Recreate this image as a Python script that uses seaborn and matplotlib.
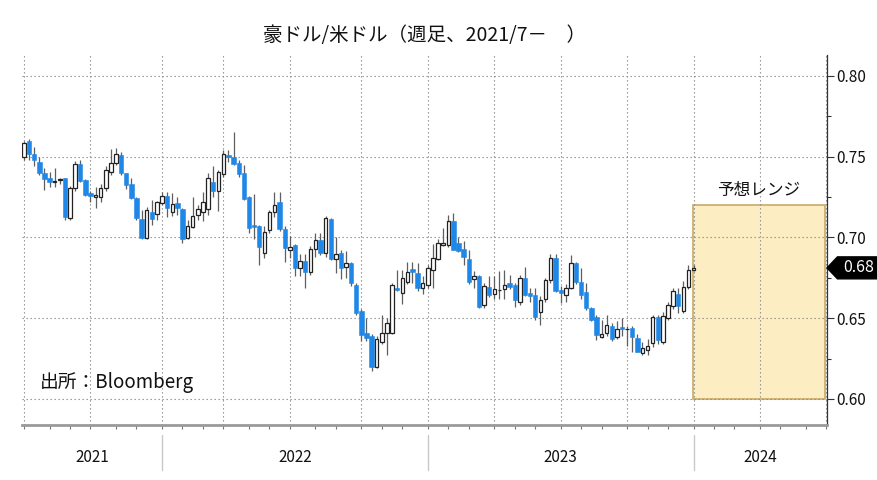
import numpy as np
import pandas as pd
import matplotlib
matplotlib.use("Agg")
import matplotlib.pyplot as plt
import matplotlib.transforms as mtransforms
from matplotlib.patches import Rectangle, Polygon
import seaborn as sns

# ---------------- data (weekly AUD/USD, week ending Friday) ----------------
first_week = "2021-06-25"
n_weeks = 132
open_ = [0.7500, 0.7595, 0.7517, 0.7470, 0.7397, 0.7366, 0.7345, 0.7355, 0.7366, 0.7118,
         0.7304, 0.7453, 0.7356, 0.7273, 0.7250, 0.7253, 0.7304, 0.7407, 0.7463, 0.7511,
         0.7397, 0.7329, 0.7247, 0.7115, 0.6995, 0.7155, 0.7143, 0.7215, 0.7257, 0.7160,
         0.7211, 0.7174, 0.6995, 0.7067, 0.7139, 0.7160, 0.7174, 0.7346, 0.7290, 0.7393,
         0.7511, 0.7501, 0.7459, 0.7397, 0.7253, 0.7077, 0.7071, 0.6906, 0.7046, 0.7160,
         0.7222, 0.7050, 0.6923, 0.6954, 0.6809, 0.6854, 0.6784, 0.6927, 0.6985, 0.6902,
         0.7112, 0.6865, 0.6902, 0.6815, 0.6844, 0.6706, 0.6547, 0.6410, 0.6390, 0.6196,
         0.6355, 0.6406, 0.6410, 0.6685, 0.6654, 0.6726, 0.6803, 0.6778, 0.6685, 0.6706,
         0.6799, 0.6865, 0.6954, 0.6954, 0.7100, 0.6968, 0.6927, 0.6865, 0.6741, 0.6762,
         0.6582, 0.6692, 0.6650, 0.6675, 0.6679, 0.6716, 0.6706, 0.6603, 0.6747, 0.6654,
         0.6644, 0.6541, 0.6617, 0.6737, 0.6871, 0.6675, 0.6644, 0.6685, 0.6840, 0.6726,
         0.6664, 0.6561, 0.6510, 0.6386, 0.6410, 0.6452, 0.6386, 0.6444, 0.6431, 0.6437,
         0.6375, 0.6287, 0.6303, 0.6344, 0.6510, 0.6355, 0.6500, 0.6576, 0.6650, 0.6547,
         0.6696, 0.6800]
high = [0.7600, 0.7610, 0.7560, 0.7500, 0.7430, 0.7407, 0.7430, 0.7370, 0.7370, 0.7320,
        0.7475, 0.7478, 0.7360, 0.7290, 0.7314, 0.7330, 0.7440, 0.7548, 0.7556, 0.7530,
        0.7400, 0.7370, 0.7250, 0.7170, 0.7190, 0.7235, 0.7225, 0.7280, 0.7280, 0.7275,
        0.7250, 0.7180, 0.7110, 0.7250, 0.7200, 0.7280, 0.7400, 0.7440, 0.7420, 0.7540,
        0.7540, 0.7655, 0.7480, 0.7450, 0.7260, 0.7270, 0.7080, 0.7070, 0.7170, 0.7280,
        0.7280, 0.7070, 0.7010, 0.6960, 0.6900, 0.6900, 0.6950, 0.7030, 0.7030, 0.7135,
        0.7120, 0.7005, 0.6920, 0.6915, 0.6850, 0.6720, 0.6560, 0.6500, 0.6400, 0.6390,
        0.6520, 0.6500, 0.6720, 0.6800, 0.6800, 0.6850, 0.6850, 0.6840, 0.6760, 0.6830,
        0.6960, 0.6990, 0.7060, 0.7140, 0.7153, 0.7005, 0.6980, 0.6920, 0.6790, 0.6770,
        0.6720, 0.6760, 0.6760, 0.6790, 0.6800, 0.6770, 0.6720, 0.6770, 0.6818, 0.6690,
        0.6690, 0.6640, 0.6750, 0.6895, 0.6895, 0.6700, 0.6710, 0.6892, 0.6850, 0.6810,
        0.6720, 0.6570, 0.6520, 0.6490, 0.6520, 0.6470, 0.6480, 0.6500, 0.6450, 0.6450,
        0.6400, 0.6350, 0.6370, 0.6520, 0.6520, 0.6540, 0.6600, 0.6690, 0.6690, 0.6730,
        0.6830, 0.6830]
low = [0.7480, 0.7480, 0.7445, 0.7390, 0.7294, 0.7314, 0.7310, 0.7330, 0.7106, 0.7110,
       0.7290, 0.7345, 0.7255, 0.7220, 0.7180, 0.7220, 0.7290, 0.7387, 0.7450, 0.7390,
       0.7300, 0.7240, 0.7110, 0.6990, 0.6990, 0.7080, 0.7110, 0.7200, 0.7130, 0.7135,
       0.7140, 0.6964, 0.6990, 0.7060, 0.7110, 0.7100, 0.7140, 0.7250, 0.7165, 0.7375,
       0.7470, 0.7450, 0.7375, 0.7230, 0.7030, 0.6990, 0.6830, 0.6870, 0.7030, 0.7130,
       0.7040, 0.6850, 0.6870, 0.6760, 0.6760, 0.6685, 0.6770, 0.6880, 0.6890, 0.6880,
       0.6860, 0.6780, 0.6740, 0.6750, 0.6700, 0.6520, 0.6360, 0.6360, 0.6175, 0.6190,
       0.6340, 0.6272, 0.6400, 0.6670, 0.6590, 0.6710, 0.6720, 0.6670, 0.6650, 0.6690,
       0.6690, 0.6860, 0.6950, 0.6940, 0.6920, 0.6910, 0.6830, 0.6710, 0.6690, 0.6565,
       0.6565, 0.6630, 0.6620, 0.6620, 0.6620, 0.6680, 0.6570, 0.6580, 0.6640, 0.6600,
       0.6490, 0.6458, 0.6600, 0.6720, 0.6660, 0.6595, 0.6600, 0.6680, 0.6710, 0.6620,
       0.6550, 0.6480, 0.6365, 0.6380, 0.6390, 0.6360, 0.6370, 0.6390, 0.6330, 0.6293,
       0.6290, 0.6270, 0.6270, 0.6320, 0.6340, 0.6340, 0.6490, 0.6560, 0.6530, 0.6530,
       0.6680, 0.6790]
close = [0.7585, 0.7517, 0.7480, 0.7397, 0.7362, 0.7342, 0.7350, 0.7360, 0.7129, 0.7308,
         0.7453, 0.7350, 0.7263, 0.7258, 0.7262, 0.7308, 0.7418, 0.7460, 0.7515, 0.7397,
         0.7325, 0.7247, 0.7118, 0.6995, 0.7170, 0.7115, 0.7217, 0.7257, 0.7180, 0.7207,
         0.7180, 0.6989, 0.7071, 0.7133, 0.7174, 0.7222, 0.7366, 0.7290, 0.7407, 0.7515,
         0.7497, 0.7455, 0.7393, 0.7238, 0.7057, 0.7063, 0.6939, 0.7032, 0.7160, 0.7201,
         0.7050, 0.6933, 0.6944, 0.6809, 0.6854, 0.6788, 0.6927, 0.6985, 0.6906, 0.7118,
         0.6865, 0.6898, 0.6809, 0.6840, 0.6716, 0.6530, 0.6396, 0.6375, 0.6200, 0.6369,
         0.6406, 0.6469, 0.6706, 0.6677, 0.6747, 0.6788, 0.6788, 0.6685, 0.6721, 0.6809,
         0.6871, 0.6968, 0.6964, 0.7100, 0.6923, 0.6919, 0.6877, 0.6726, 0.6762, 0.6572,
         0.6700, 0.6644, 0.6679, 0.6677, 0.6706, 0.6692, 0.6613, 0.6747, 0.6644, 0.6640,
         0.6510, 0.6613, 0.6737, 0.6871, 0.6671, 0.6659, 0.6685, 0.6840, 0.6726, 0.6644,
         0.6561, 0.6489, 0.6396, 0.6402, 0.6458, 0.6370, 0.6431, 0.6431, 0.6433, 0.6382,
         0.6293, 0.6314, 0.6328, 0.6506, 0.6365, 0.6514, 0.6582, 0.6671, 0.6576, 0.6696,
         0.6799, 0.6812]

range_low, range_high = 0.60, 0.72          # forecast range
range_start, range_end = "2024-01-01", "2024-06-30"
axis_start, axis_end = "2021-07-01", "2024-07-01"
yticks = [0.60, 0.65, 0.70, 0.75, 0.80]
yminor = [0.625, 0.675, 0.725, 0.775]
years = [2021, 2022, 2023, 2024]

title = "豪ドル/米ドル（週足、2021/7－　）"
range_label = "予想レンジ"
source = "出所：Bloomberg"

# ---------------- helpers ----------------
week_end = pd.date_range(first_week, periods=n_weeks, freq="W-FRI")
d0 = week_end[0]


def pos(date):
    """bar-index position of a calendar date (Bloomberg style index axis)"""
    date = pd.Timestamp(date)
    return float(np.floor(((date - d0).days - 1) / 7))


df = pd.DataFrame({"date": week_end, "open": open_, "high": high,
                   "low": low, "close": close})
df["x"] = np.arange(len(df))
up = df["close"] >= df["open"]

# ---------------- style ----------------
sns.set_theme(style="white")
plt.rcParams["font.family"] = ["Noto Sans CJK JP", "DejaVu Sans"]

BLUE = "#1f87e8"
fig = plt.figure(figsize=(8.78, 4.8), dpi=100)
ax = fig.add_axes([22 / 878, 1 - 425 / 480, 805 / 878, 370 / 480])

# wicks
ax.vlines(df["x"], df["low"], df["high"], color="#5f5f5f", lw=0.9, zorder=2)
# down bodies
dn = df[~up]
ax.bar(dn["x"], (dn["open"] - dn["close"]).clip(lower=0.0004), bottom=dn["close"],
       width=0.84, color=BLUE, edgecolor=BLUE, lw=0.4, zorder=3)
# up bodies
u = df[up]
ax.bar(u["x"], (u["close"] - u["open"]).clip(lower=0.0003), bottom=u["open"],
       width=0.68, color="white", edgecolor="#222222", lw=0.9, zorder=3)

# forecast range box
x0 = pos(range_start) - 0.2
x1 = pos(range_end) - 0.3
ax.add_patch(Rectangle((x0, range_low), x1 - x0, range_high - range_low,
                       facecolor="#fdedc3", edgecolor="#c9a968", lw=1.2, zorder=0.4))
ax.text((x0 + x1) / 2, range_high + 0.004, range_label, ha="center", va="bottom",
        fontsize=12, color="#111111")

# grid / ticks
quarters = pd.date_range(axis_start, axis_end, freq="QS")
months = pd.date_range(axis_start, axis_end, freq="MS")
ax.set_xticks([pos(q) for q in quarters])
ax.set_xticks([pos(m) for m in months], minor=True)
ax.set_xticklabels([])
ax.set_yticks(yticks)
ax.set_yticks(yminor, minor=True)
ax.set_yticklabels([f"{v:.2f}" for v in yticks])

# axes limits (after ticks so they are not expanded)
ax.set_xlim(pos(axis_start) - 0.4, pos(axis_end) + 0.1)
ax.set_ylim(0.5839, 0.813)

ax.yaxis.tick_right()
ax.set_axisbelow(True)
ax.grid(True, which="major", color="#8a8a8a", linestyle=(0, (1.2, 2.4)), lw=0.8)
ax.tick_params(axis="y", which="major", direction="out", length=5, width=0.8,
               color="#333333", labelsize=11, pad=2, right=True, left=False,
               labelcolor="#111111")
ax.tick_params(axis="y", which="minor", direction="out", length=3, width=0.8,
               color="#333333", right=True, left=False)
ax.tick_params(axis="x", which="both", direction="out", length=3, width=0.8,
               color="#777777", bottom=True)

for s in ["top", "left"]:
    ax.spines[s].set_visible(False)
ax.spines["right"].set_color("#333333")
ax.spines["right"].set_linewidth(0.9)
ax.spines["bottom"].set_color("#9a9a9a")
ax.spines["bottom"].set_linewidth(2.0)

# year labels and separators
tr = mtransforms.blended_transform_factory(ax.transData, ax.transAxes)
xl = ax.get_xlim()
bounds = [xl[0]] + [pos(f"{y}-01-01") for y in years[1:]] + [xl[1]]
for i, y in enumerate(years):
    ax.text((bounds[i] + bounds[i + 1]) / 2, -0.089, str(y), transform=tr,
            ha="center", va="center", fontsize=11, color="#111111")
for b in bounds[1:-1]:
    ax.plot([b, b], [-0.027, -0.122], transform=tr, color="#c8c8c8", lw=1,
            clip_on=False)

# last price tag
last = df["close"].iloc[-1]
tr2 = mtransforms.blended_transform_factory(ax.transAxes, ax.transData)
h = 0.0068
ax.add_patch(Polygon([(1.0, last), (1.013, last + h), (1.07, last + h),
                      (1.07, last - h), (1.013, last - h)], closed=True,
                     transform=tr2, facecolor="black", edgecolor="black",
                     clip_on=False, zorder=5))
ax.text(1.039, last, f"{last:.2f}", transform=tr2, ha="center", va="center",
        color="white", fontsize=11.5, zorder=6)

# source & title
ax.text(0.022, 0.116, source, transform=ax.transAxes, ha="left", va="center",
        fontsize=13.5, color="#111111")
ax.set_title(title, fontsize=14, pad=10, color="#111111")

fig.savefig("out.png", dpi=100)
